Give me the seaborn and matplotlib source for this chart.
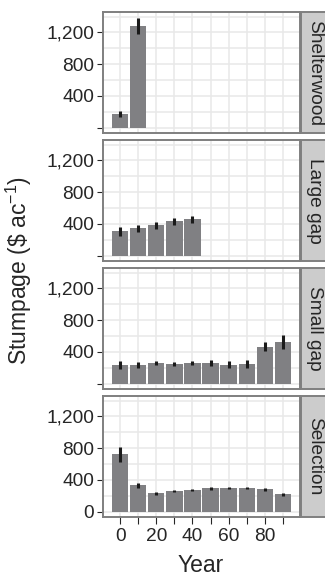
import numpy as np
import pandas as pd
import matplotlib
matplotlib.use("Agg")
import matplotlib.pyplot as plt
import seaborn as sns
from matplotlib.patches import Rectangle
from matplotlib.ticker import FixedLocator

# ---- data ----
treatments = ["Shelterwood", "Large gap", "Small gap", "Selection"]
shelter_years = [0, 10]
shelter_vals = [167, 1283]
shelter_err = [37, 98]
large_years = [0, 10, 20, 30, 40]
large_vals = [306, 343, 381, 430, 455]
large_err = [60, 45, 42, 45, 41]
small_years = [0, 10, 20, 30, 40, 50, 60, 70, 80, 90]
small_vals = [234, 234, 260, 247, 260, 260, 238, 247, 464, 528]
small_err = [53, 37, 30, 30, 26, 34, 47, 47, 60, 90]
sel_years = [0, 10, 20, 30, 40, 50, 60, 70, 80, 90]
sel_vals = [720, 331, 230, 255, 268, 293, 293, 293, 281, 218]
sel_err = [100, 32, 22, 14, 14, 16, 14, 14, 18, 17]

frames = []
for t, yrs, v, e in zip(treatments,
                        [shelter_years, large_years, small_years, sel_years],
                        [shelter_vals, large_vals, small_vals, sel_vals],
                        [shelter_err, large_err, small_err, sel_err]):
    frames.append(pd.DataFrame({"treatment": t, "year": yrs, "value": v, "err": e}))
df = pd.concat(frames, ignore_index=True)

sns.set_style("white")
plt.rcParams["font.family"] = ["Liberation Sans", "DejaVu Sans"]
plt.rcParams["mathtext.fontset"] = "custom"
plt.rcParams["mathtext.rm"] = "Liberation Sans"
plt.rcParams["mathtext.it"] = "Liberation Sans:italic"
plt.rcParams["mathtext.default"] = "regular"

W, H = 325, 576
fig = plt.figure(figsize=(W / 100, H / 100), dpi=100)
fs = 13.8
fs_title = 16.5
txt = "#262626"
bar_c = "#808083"
grid_c = "#e8e8e8"
border_c = "#7f7f7f"

left, right = 103, 300
tops = [12, 140, 268, 396]
ph = 121

for i, t in enumerate(treatments):
    top = tops[i]
    ax = fig.add_axes([left / W, (H - top - ph) / H, (right - left) / W, ph / H])
    sub = df[df.treatment == t]
    sns.barplot(data=sub, x="year", y="value", native_scale=True, width=0.9,
                color=bar_c, saturation=1, errorbar=None, linewidth=0, ax=ax, zorder=2)
    ax.errorbar(sub["year"], sub["value"], yerr=sub["err"], fmt="none",
                ecolor="#1a1a1a", elinewidth=2.2, capsize=0, zorder=3)
    ax.set_xlim(-9.45, 99.45)
    ax.set_ylim(-69, 1457)
    ax.set_facecolor("white")
    ax.xaxis.set_major_locator(FixedLocator([0, 20, 40, 60, 80]))
    ax.xaxis.set_minor_locator(FixedLocator([10, 30, 50, 70, 90]))
    ax.yaxis.set_major_locator(FixedLocator([0, 400, 800, 1200]))
    ax.yaxis.set_minor_locator(FixedLocator([200, 600, 1000, 1400]))
    ax.grid(True, which="major", color=grid_c, linewidth=1.1, zorder=0)
    ax.grid(True, which="minor", color=grid_c, linewidth=1.1, zorder=0)
    ax.set_axisbelow(True)
    for s in ax.spines.values():
        s.set_visible(True)
        s.set_color(border_c)
        s.set_linewidth(1.4)
    if i < 3:
        ax.set_yticklabels(["", "400", "800", "1,200"])
    else:
        ax.set_yticklabels(["0", "400", "800", "1,200"])
    ax.tick_params(axis="y", which="major", direction="out", length=4.5, width=0.8,
                   color=txt, labelsize=fs, labelcolor=txt, pad=2, left=True)
    ax.tick_params(axis="y", which="minor", length=0)
    if i < 3:
        ax.tick_params(axis="x", which="both", length=0, labelbottom=False, bottom=False)
    else:
        ax.tick_params(axis="x", which="both", direction="out", length=5, width=0.8,
                       color=txt, labelsize=fs, labelcolor=txt, pad=3, bottom=True)
    ax.set_xlabel("")
    ax.set_ylabel("")
    rect = Rectangle((1.006, 0.0), 0.16, 1.0, transform=ax.transAxes, clip_on=False,
                     facecolor="#cccccc", edgecolor=border_c, linewidth=1.4, zorder=5)
    ax.add_patch(rect)
    ax.text(1.076, 0.5, t, transform=ax.transAxes, rotation=-90, ha="center",
            va="center", fontsize=fs, color=txt, zorder=6, clip_on=False)

fig.text(19 / W, 1 - 271 / H, r"Stumpage (\$ ac$^{-1}$)", rotation=90,
         ha="center", va="center", fontsize=fs_title, color=txt)
fig.text(201 / W, 1 - 565 / H, "Year", ha="center", va="center", fontsize=fs_title, color=txt)

fig.savefig("out.png", dpi=100, facecolor="white")
